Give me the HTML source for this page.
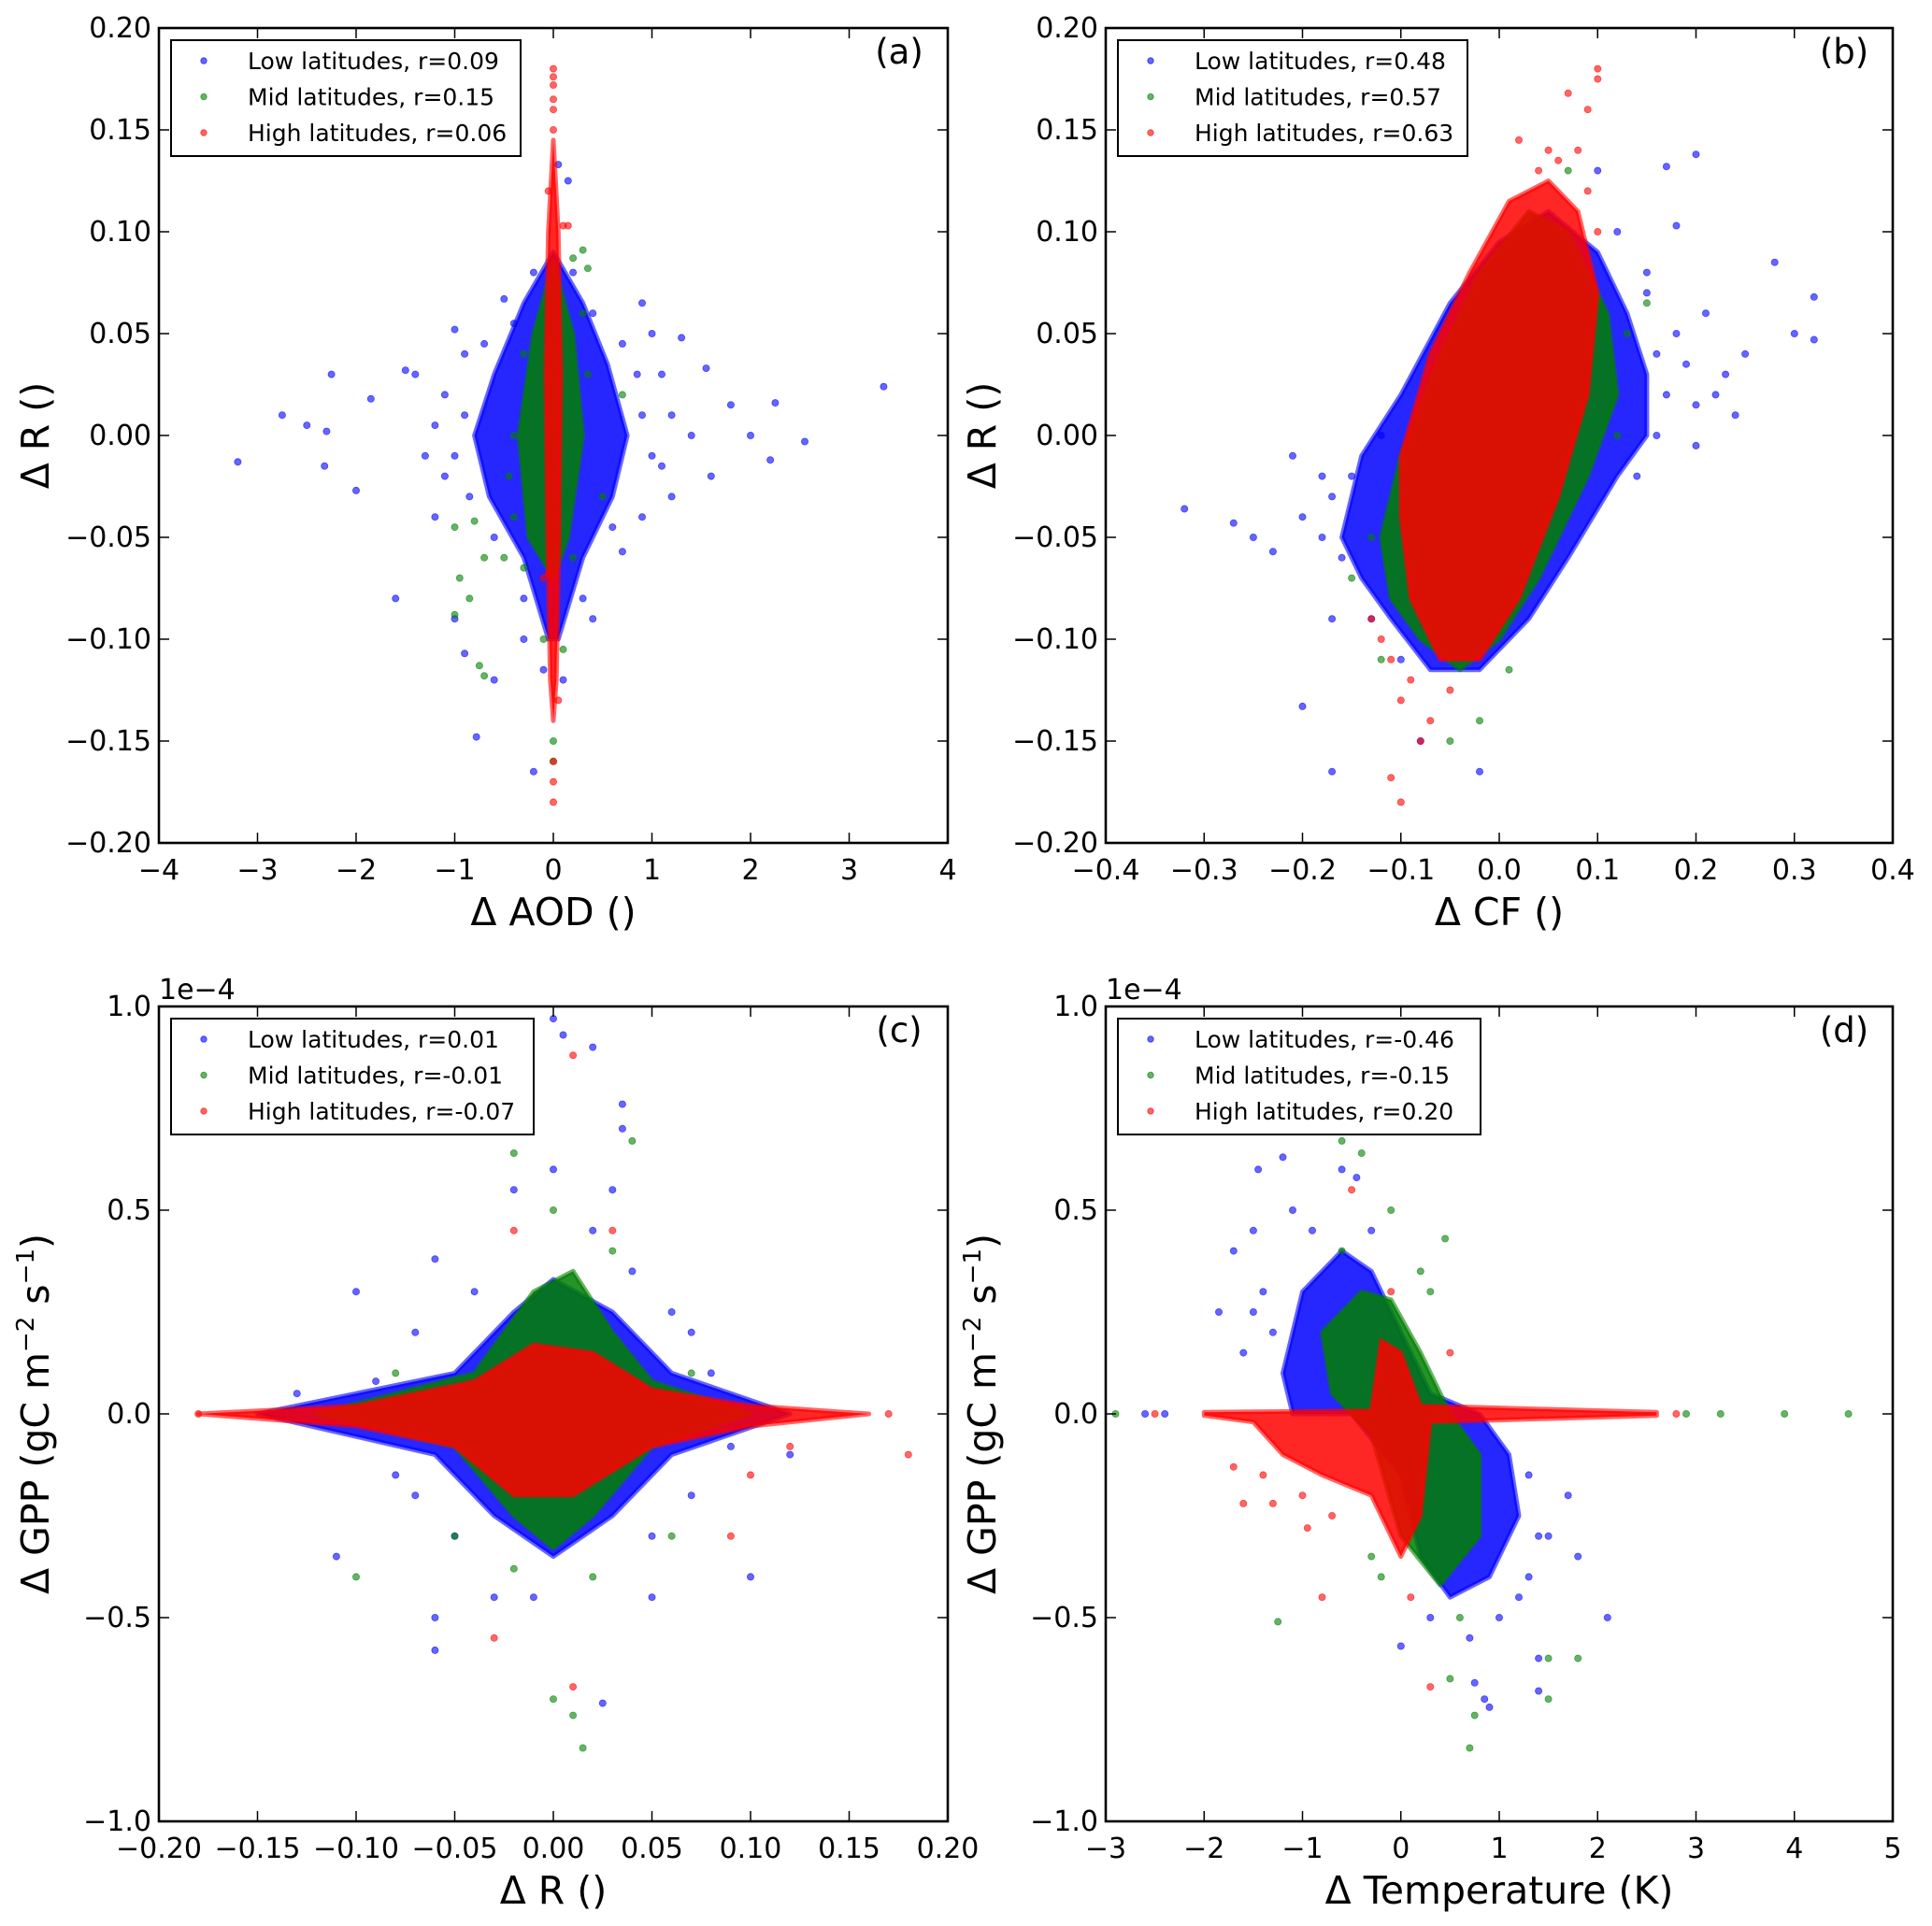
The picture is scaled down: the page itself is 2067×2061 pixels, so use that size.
<!DOCTYPE html>
<html><head><meta charset="utf-8"><style>html,body{margin:0;padding:0;background:#fff}svg{display:block}text{font-family:"DejaVu Sans","Liberation Sans",sans-serif;fill:#000}</style></head>
<body>
<svg id="fig" width="2067" height="2061" viewBox="0 0 2067 2061" xmlns="http://www.w3.org/2000/svg"></svg>
<script>
// ---------- data ----------
// Panel a: ΔAOD vs ΔR
const aLowHull=[[0,0.09],[0.3,0.065],[0.55,0.035],[0.75,0.0],[0.6,-0.03],[0.3,-0.06],[0.05,-0.1],[-0.05,-0.1],[-0.3,-0.06],[-0.65,-0.03],[-0.8,0.0],[-0.6,0.03],[-0.3,0.065]];
const aLowPts=[[-3.2,-0.013],[-2.75,0.01],[-2.5,0.005],[-2.3,0.002],[-2.25,0.03],[-2.32,-0.015],[-2.0,-0.027],[-1.85,0.018],[-1.6,-0.08],[-1.4,0.03],[-1.5,0.032],[-1.2,-0.04],[-1.0,0.052],[-0.78,-0.148],[-0.9,-0.107],[-1.0,-0.09],[1.55,0.033],[1.8,0.015],[2.0,0.0],[2.25,0.016],[2.55,-0.003],[3.35,0.024],[2.2,-0.012],[1.6,-0.02],[1.3,0.048],[0.7,-0.057],[0.4,-0.09],[1.2,-0.03],[0.15,0.125],[0.05,0.133],[-0.5,0.067],[-0.2,-0.165],[0.9,0.065],[1.0,0.05],[-1.1,0.02],[-1.3,-0.01],[1.4,0.0],[1.2,0.01],[-0.6,-0.12],[-0.3,-0.1],[0.9,-0.04],[-0.9,0.04],[1.1,0.03],[-1.1,-0.02],[-0.9,0.01],[-1.0,-0.01],[0.9,0.01],[1.0,-0.01],[0.85,0.03],[-0.85,-0.03],[0.7,0.045],[-0.7,0.045],[-0.6,-0.05],[0.6,-0.045],[0.4,0.06],[-0.4,0.055],[0.2,0.08],[-0.2,0.08],[0.3,-0.08],[-0.3,-0.08],[1.1,-0.015],[-1.2,0.005],[0.1,-0.12],[-0.1,-0.115]];
const aMidHull=[[0,0.085],[0.2,0.05],[0.3,0.0],[0.15,-0.05],[0,-0.07],[-0.25,-0.05],[-0.35,0],[-0.2,0.05]];
const aMidPts=[[-0.7,-0.118],[-0.75,-0.113],[-1.0,-0.088],[-0.85,-0.08],[-0.95,-0.07],[-1.0,-0.045],[-0.8,-0.042],[-0.7,-0.06],[0.3,0.091],[0.35,0.082],[0.2,0.087],[0,-0.15],[0,-0.16],[0.1,-0.105],[-0.1,-0.1],[0.7,0.02],[0.5,-0.03],[-0.5,-0.06],[-0.4,-0.04],[-0.45,-0.02],[-0.4,0.0],[0.35,0.03],[0.3,0.06],[-0.3,0.04],[-0.3,-0.065],[0.2,-0.06]];
const aHighHull=[[0,0.145],[0.05,0.1],[0.08,0.03],[0.06,-0.05],[0.03,-0.12],[0,-0.14],[-0.03,-0.12],[-0.06,-0.05],[-0.08,0.03],[-0.05,0.1]];
const aHighPts=[[0,0.18],[0,0.176],[0,0.172],[0,0.165],[0,0.16],[0,0.15],[0,-0.17],[0,-0.16],[0,-0.18],[0.1,0.103],[0.15,0.103],[-0.05,0.12],[-0.05,-0.068],[-0.1,-0.07],[0.05,-0.13]];
// Panel b: ΔCF vs ΔR
const bLowHull=[[-0.16,-0.05],[-0.14,-0.01],[-0.1,0.02],[-0.05,0.065],[0.0,0.095],[0.05,0.11],[0.1,0.09],[0.13,0.06],[0.15,0.03],[0.15,0.0],[0.12,-0.02],[0.07,-0.06],[0.03,-0.09],[-0.02,-0.115],[-0.07,-0.115],[-0.11,-0.09],[-0.14,-0.07]];
const bLowPts=[[-0.32,-0.036],[-0.27,-0.043],[-0.25,-0.05],[-0.23,-0.057],[-0.2,-0.133],[-0.17,-0.165],[-0.2,-0.04],[-0.18,-0.02],[0.28,0.085],[0.3,0.05],[0.32,0.068],[0.32,0.047],[0.25,0.04],[0.22,0.02],[0.2,0.138],[0.17,0.132],[0.21,0.06],[0.2,-0.005],[0.18,0.103],[0.15,0.08],[0.23,0.03],[-0.08,-0.15],[-0.02,-0.165],[-0.17,-0.09],[0.1,0.13],[-0.16,-0.06],[0.16,0.04],[0.17,0.02],[0.18,0.05],[0.16,0.0],[0.19,0.035],[-0.17,-0.03],[-0.18,-0.05],[-0.15,-0.02],[0.14,-0.02],[0.15,0.07],[-0.13,-0.09],[-0.1,-0.11],[-0.12,0.0],[0.12,0.1],[0.2,0.015],[0.24,0.01],[-0.21,-0.01]];
const bMidHull=[[-0.12,-0.05],[-0.1,-0.01],[-0.06,0.04],[-0.02,0.08],[0.03,0.11],[0.07,0.1],[0.11,0.06],[0.12,0.02],[0.09,-0.02],[0.04,-0.07],[0.0,-0.1],[-0.04,-0.115],[-0.08,-0.1],[-0.11,-0.08]];
const bMidPts=[[-0.05,-0.15],[-0.02,-0.14],[0.01,-0.115],[0.07,0.13],[0.1,0.065],[0.15,0.065],[-0.15,-0.07],[-0.12,-0.11],[0.13,0.05],[0.12,0.0],[-0.13,-0.05]];
const bHighHull=[[-0.1,-0.04],[-0.1,-0.01],[-0.07,0.04],[-0.03,0.08],[0.01,0.115],[0.05,0.125],[0.08,0.11],[0.1,0.07],[0.09,0.02],[0.06,-0.03],[0.02,-0.08],[-0.02,-0.11],[-0.06,-0.11],[-0.09,-0.08]];
const bHighPts=[[0.1,0.18],[0.1,0.175],[0.07,0.168],[0.09,0.16],[0.05,0.14],[-0.1,-0.18],[-0.11,-0.168],[-0.08,-0.15],[-0.07,-0.14],[-0.12,-0.1],[-0.13,-0.09],[0.02,0.145],[0.08,0.14],[0.06,0.135],[0.04,0.13],[0.09,0.12],[-0.09,-0.12],[-0.05,-0.125],[-0.11,-0.11],[-0.1,-0.13],[0.1,0.1]];
// Panel c: ΔR vs ΔGPP (1e-4)
const cLowHull=[[-0.15,0],[-0.05,0.1],[-0.02,0.25],[0.0,0.33],[0.03,0.25],[0.06,0.1],[0.12,0.0],[0.06,-0.1],[0.03,-0.25],[0.0,-0.35],[-0.03,-0.25],[-0.06,-0.1]];
const cLowPts=[[0.0,0.97],[0.005,0.93],[0.02,0.9],[0.035,0.76],[0.035,0.7],[-0.06,0.38],[-0.1,0.3],[0.06,0.25],[0.08,0.1],[-0.11,-0.35],[-0.06,-0.58],[-0.06,-0.5],[0.025,-0.71],[0.1,-0.4],[0.05,-0.45],[-0.08,-0.15],[0.12,-0.1],[-0.13,0.05],[0.03,0.55],[-0.02,0.55],[0.0,0.6],[-0.03,-0.45],[-0.04,0.3],[0.04,0.35],[-0.05,-0.3],[0.05,-0.3],[0.07,0.2],[-0.07,0.2],[-0.07,-0.2],[0.07,-0.2],[0.02,0.45],[-0.01,-0.45],[0.09,-0.08],[-0.09,0.08]];
const cMidHull=[[-0.12,0],[-0.04,0.1],[-0.01,0.3],[0.01,0.35],[0.03,0.2],[0.05,0.08],[0.1,0],[0.05,-0.08],[0.02,-0.25],[0,-0.33],[-0.02,-0.25],[-0.05,-0.08]];
const cMidPts=[[-0.1,-0.4],[0.015,-0.82],[0.01,-0.74],[0.0,-0.7],[-0.02,0.64],[0.04,0.67],[0.07,0.1],[-0.08,0.1],[0.06,-0.3],[-0.05,-0.3],[0.0,0.5],[0.02,-0.4],[-0.02,-0.38],[0.03,0.4]];
const cHighHull=[[-0.18,0],[-0.1,0.02],[-0.04,0.08],[-0.01,0.17],[0.02,0.15],[0.05,0.06],[0.1,0.02],[0.16,0],[0.1,-0.03],[0.05,-0.08],[0.01,-0.2],[-0.02,-0.2],[-0.05,-0.08],[-0.1,-0.03]];
const cHighPts=[[-0.18,0],[0.18,-0.1],[0.01,0.88],[0.01,-0.67],[-0.03,-0.55],[0.09,-0.3],[-0.02,0.45],[0.03,0.45],[0.1,-0.15],[0.12,-0.08],[0.17,0]];
// Panel d: ΔT vs ΔGPP (1e-4)
const dLowHull=[[-1.2,0.1],[-1.0,0.3],[-0.6,0.4],[-0.3,0.35],[0.0,0.2],[0.3,0.05],[0.8,0.0],[1.1,-0.1],[1.2,-0.25],[0.9,-0.4],[0.5,-0.45],[0.2,-0.35],[0.0,-0.15],[-0.5,0.0],[-1.1,0.0]];
const dLowPts=[[-1.85,0.25],[-1.7,0.4],[-1.45,0.6],[-1.2,0.63],[-0.6,0.6],[-0.45,0.58],[2.1,-0.5],[1.4,-0.6],[1.4,-0.68],[0.75,-0.66],[0.85,-0.7],[0.9,-0.72],[1.8,-0.35],[1.7,-0.2],[1.5,-0.3],[-1.5,0.45],[-1.1,0.5],[0.0,-0.57],[1.2,-0.45],[-1.6,0.15],[-2.4,0],[-2.6,0],[-1.4,0.3],[-1.3,0.2],[-1.5,0.25],[-0.9,0.45],[-0.3,0.45],[1.3,-0.15],[1.4,-0.3],[1.3,-0.4],[0.7,-0.55],[1.0,-0.5],[0.3,-0.5]];
const dMidHull=[[-0.8,0.2],[-0.4,0.3],[-0.1,0.28],[0.2,0.15],[0.5,0.0],[0.8,-0.1],[0.8,-0.3],[0.4,-0.42],[0.0,-0.3],[-0.3,-0.05],[-0.7,0.05]];
const dMidPts=[[0.7,-0.82],[0.75,-0.74],[1.5,-0.7],[1.5,-0.6],[1.8,-0.6],[-1.25,-0.51],[-0.6,0.67],[-0.4,0.64],[0.45,0.43],[3.25,0],[3.9,0],[4.55,0],[-2.9,0],[2.9,0],[0.5,-0.65],[-0.1,0.5],[0.3,0.3],[0.2,0.35],[-0.6,0.4],[0.6,-0.5],[-0.2,-0.4],[-0.3,-0.35]];
const dHighHull=[[-2.0,0.004],[-0.3,0.008],[-0.2,0.18],[0.0,0.15],[0.2,0.02],[2.6,0.004],[2.6,-0.004],[0.3,-0.02],[0.2,-0.25],[0.0,-0.35],[-0.3,-0.2],[-0.8,-0.15],[-1.2,-0.1],[-1.5,-0.02],[-2.0,-0.004]];
const dHighPts=[[-1.6,-0.22],[-1.3,-0.22],[-0.8,-0.45],[-0.95,-0.28],[0.3,-0.67],[-0.5,0.55],[-0.1,0.3],[-1.7,-0.13],[0.5,0.15],[-2.5,0],[2.8,0],[0.1,-0.45],[-1.0,-0.2],[-1.4,-0.15],[-0.7,-0.25]];
// ticks & legends
const aXTicks=[-4,-3,-2,-1,0,1,2,3,4], aYTicks=[-0.2,-0.15,-0.1,-0.05,0,0.05,0.1,0.15,0.2];
const bXTicks=[-0.4,-0.3,-0.2,-0.1,0,0.1,0.2,0.3,0.4];
const cXTicks=[-0.2,-0.15,-0.1,-0.05,0,0.05,0.1,0.15,0.2], cYTicks=[-1,-0.5,0,0.5,1];
const dXTicks=[-3,-2,-1,0,1,2,3,4,5];
const aLegend=["Low latitudes, r=0.09","Mid latitudes, r=0.15","High latitudes, r=0.06"];
const bLegend=["Low latitudes, r=0.48","Mid latitudes, r=0.57","High latitudes, r=0.63"];
const cLegend=["Low latitudes, r=0.01","Mid latitudes, r=-0.01","High latitudes, r=-0.07"];
const dLegend=["Low latitudes, r=-0.46","Mid latitudes, r=-0.15","High latitudes, r=0.20"];

const NS="http://www.w3.org/2000/svg";
const svg=document.getElementById('fig');
function mk(tag,attrs,parent){const e=document.createElementNS(NS,tag);for(const k in attrs)e.setAttribute(k,attrs[k]);(parent||svg).appendChild(e);return e;}
const COLORS=['#0000ff','#008000','#ff0000'];
function fmt(v,d){const s=Math.abs(v).toFixed(d);return (v<-1e-9?'\u2212':'')+s;}

function panel(o){
  const g=mk('g',{});
  
  
  const X=v=>o.L+(v-o.x0)/(o.x1-o.x0)*(o.R-o.L);
  const Y=v=>o.B-(v-o.y0)/(o.y1-o.y0)*(o.B-o.T);
  const clip='clip'+o.id;
  const cp=mk('clipPath',{id:clip},g);mk('rect',{x:o.L,y:o.T,width:o.R-o.L,height:o.B-o.T},cp);
  const plot=mk('g',{'clip-path':'url(#'+clip+')'},g);
  const names=['low','mid','high'];
  o.series.forEach((s,i)=>{
    const sg=mk('g',{},plot);
    
    
    const hp=mk('polygon',{points:s.hull.map(p=>X(p[0]).toFixed(1)+','+Y(p[1]).toFixed(1)).join(' '),fill:COLORS[i],'fill-opacity':0.85,stroke:COLORS[i],'stroke-opacity':0.6,'stroke-width':5,'stroke-linejoin':'round'},sg);
    
    
    s.pts.forEach(p=>{
      const c=mk('circle',{cx:X(p[0]).toFixed(1),cy:Y(p[1]).toFixed(1),r:3.6,fill:COLORS[i],'fill-opacity':0.6,stroke:COLORS[i],'stroke-opacity':0.6,'stroke-width':0.8},sg);
      
      
    });
  });
  const fr=mk('rect',{x:o.L,y:o.T,width:o.R-o.L,height:o.B-o.T,fill:'none',stroke:'#000','stroke-width':2.6},g);
  
  
  o.xt.forEach(v=>{const x=X(v);
    mk('line',{x1:x,x2:x,y1:o.B,y2:o.B-11,stroke:'#000','stroke-width':1.5},g);
    mk('line',{x1:x,x2:x,y1:o.T,y2:o.T+11,stroke:'#000','stroke-width':1.5},g);
    const t=mk('text',{x:x,y:o.B+39,'font-size':30,'text-anchor':'middle'},g);t.textContent=fmt(v,o.xd);
    
    
  });
  o.yt.forEach(v=>{const y=Y(v);
    mk('line',{x1:o.L,x2:o.L+11,y1:y,y2:y,stroke:'#000','stroke-width':1.5},g);
    mk('line',{x1:o.R,x2:o.R-11,y1:y,y2:y,stroke:'#000','stroke-width':1.5},g);
    const t=mk('text',{x:o.L-8,y:y+10,'font-size':30,'text-anchor':'end'},g);t.textContent=fmt(v,o.yd);
    
    
  });
  if(o.exp){const t=mk('text',{x:o.L,y:o.T-8,'font-size':30},g);t.textContent='1e\u22124';
    
    }
  const xl=mk('text',{x:(o.L+o.R)/2,y:o.B+88,'font-size':41,'text-anchor':'middle'},g);xl.textContent=o.xlabel;
  
  
  const yl=mk('text',{x:0,y:0,'font-size':41,'text-anchor':'middle',transform:'translate('+(o.L-118)+','+((o.T+o.B)/2)+') rotate(-90)'},g);
  
  
  if(o.gpp){yl.innerHTML='\u0394 GPP (gC m<tspan dy="-16" font-size="26">\u22122</tspan><tspan dy="16"> s</tspan><tspan dy="-16" font-size="26">\u22121</tspan><tspan dy="16">)</tspan>';}
  else yl.textContent=o.ylabel;
  const pl=mk('text',{x:o.R-52,y:o.T+38,'font-size':37,'text-anchor':'middle'},g);pl.textContent=o.letter;
  
  
  const lg=mk('g',{},g);
  
  
  const lx=o.L+13,ly=o.T+13;
  mk('rect',{x:lx,y:ly,width:o.lw,height:124,fill:'#fff',stroke:'#000','stroke-width':2},lg);
  o.legend.forEach((s,i)=>{
    const yy=ly+22+i*38.5;
    const m=mk('circle',{cx:lx+35,cy:yy,r:3.2,fill:COLORS[i],'fill-opacity':0.6,stroke:COLORS[i],'stroke-opacity':0.6},lg);
    
    
    const t=mk('text',{x:lx+82,y:yy+9,'font-size':25},lg);t.textContent=s;
    
    
  });
}
const xL1=170,xR1=1014,xL2=1183,xR2=2025,yT1=30,yB1=902,yT2=1077,yB2=1949;
panel({id:'a',name:'panel-a',L:xL1,R:xR1,T:yT1,B:yB1,x0:-4,x1:4,y0:-0.2,y1:0.2,xt:aXTicks,yt:aYTicks,xd:0,yd:2,xlabel:'\u0394 AOD ()',ylabel:'\u0394 R ()',letter:'(a)',legend:aLegend,lw:374,
  series:[{hull:aLowHull,pts:aLowPts},{hull:aMidHull,pts:aMidPts},{hull:aHighHull,pts:aHighPts}]});
panel({id:'b',name:'panel-b',L:xL2,R:xR2,T:yT1,B:yB1,x0:-0.4,x1:0.4,y0:-0.2,y1:0.2,xt:bXTicks,yt:aYTicks,xd:1,yd:2,xlabel:'\u0394 CF ()',ylabel:'\u0394 R ()',letter:'(b)',legend:bLegend,lw:374,
  series:[{hull:bLowHull,pts:bLowPts},{hull:bMidHull,pts:bMidPts},{hull:bHighHull,pts:bHighPts}]});
panel({id:'c',name:'panel-c',L:xL1,R:xR1,T:yT2,B:yB2,x0:-0.2,x1:0.2,y0:-1,y1:1,xt:cXTicks,yt:cYTicks,xd:2,yd:1,xlabel:'\u0394 R ()',gpp:true,exp:true,letter:'(c)',legend:cLegend,lw:388,
  series:[{hull:cLowHull,pts:cLowPts},{hull:cMidHull,pts:cMidPts},{hull:cHighHull,pts:cHighPts}]});
panel({id:'d',name:'panel-d',L:xL2,R:xR2,T:yT2,B:yB2,x0:-3,x1:5,y0:-1,y1:1,xt:dXTicks,yt:cYTicks,xd:0,yd:1,xlabel:'\u0394 Temperature (K)',gpp:true,exp:true,letter:'(d)',legend:dLegend,lw:388,
  series:[{hull:dLowHull,pts:dLowPts},{hull:dMidHull,pts:dMidPts},{hull:dHighHull,pts:dHighPts}]});
</script>
</body></html>
